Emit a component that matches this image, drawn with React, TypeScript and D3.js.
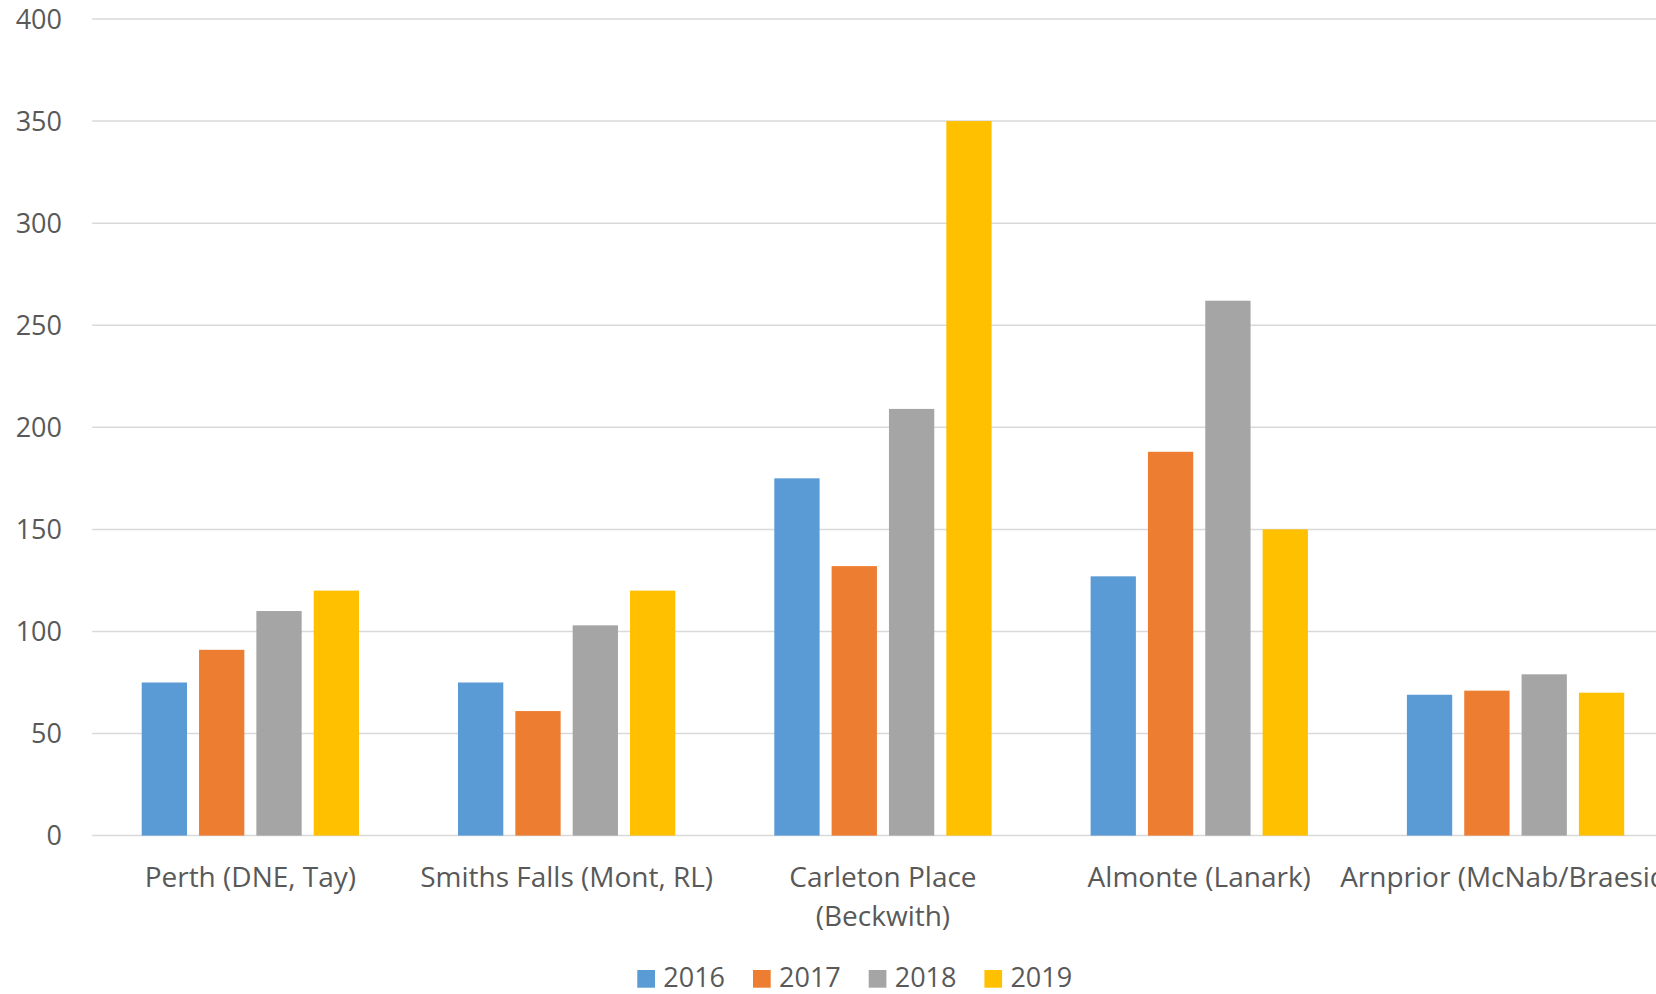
import { useEffect, useRef } from 'react'
import * as d3 from 'd3'

const categories = [
  'Perth (DNE, Tay)',
  'Smiths Falls (Mont, RL)',
  'Carleton Place\n(Beckwith)',
  'Almonte (Lanark)',
  'Arnprior (McNab/Braeside)',
]
const years = ['2016', '2017', '2018', '2019']
const values2016 = [75, 75, 175, 127, 69]
const values2017 = [91, 61, 132, 188, 71]
const values2018 = [110, 103, 209, 262, 79]
const values2019 = [120, 120, 350, 150, 70]
const yTicks = [0, 50, 100, 150, 200, 250, 300, 350, 400]
const colors = ['#5B9BD5', '#ED7D31', '#A5A5A5', '#FFC000']

const W = 1656
const H = 994
const FONT = '"Open Sans", sans-serif'
const TEXT = '#595959'

export default function App() {
  const ref = useRef<SVGSVGElement>(null)

  useEffect(() => {
    const svg = d3.select(ref.current)
    svg.selectAll('*').remove()

    const series = [values2016, values2017, values2018, values2019]
    const plotLeft = 92.2
    const plotRight = 1673.7
    // the chart itself runs past the visible frame on the right
    const chartRight = 1712

    const y = d3.scaleLinear().domain([0, 400]).range([835.6, 19])
    const x0 = d3.scaleBand<string>().domain(categories).range([plotLeft, plotRight])
    const outer = 49.5
    const x1 = d3
      .scaleBand<string>()
      .domain(years)
      .range([outer, x0.bandwidth() - outer])
      .paddingInner(0.21)
      .paddingOuter(0)

    // gridlines
    svg
      .append('g')
      .selectAll('line')
      .data(yTicks)
      .join('line')
      .attr('x1', plotLeft)
      .attr('x2', plotRight)
      .attr('y1', (d) => y(d))
      .attr('y2', (d) => y(d))
      .attr('stroke', '#d9d9d9')
      .attr('stroke-width', 1.5)

    // y labels
    svg
      .append('g')
      .selectAll('text')
      .data(yTicks)
      .join('text')
      .attr('x', 62)
      .attr('y', (d) => y(d))
      .attr('dy', '0.36em')
      .attr('text-anchor', 'end')
      .attr('font-family', FONT)
      .attr('font-size', 27)
      .attr('fill', TEXT)
      .text((d) => d)

    // bars
    const groups = svg
      .append('g')
      .selectAll('g')
      .data(categories)
      .join('g')
      .attr('transform', (c) => `translate(${x0(c)},0)`)

    groups
      .selectAll('rect')
      .data((_c, i) => years.map((yr, k) => ({ yr, k, v: series[k][i] })))
      .join('rect')
      .attr('x', (d) => x1(d.yr) ?? 0)
      .attr('width', x1.bandwidth())
      .attr('y', (d) => y(d.v))
      .attr('height', (d) => y(0) - y(d.v))
      .attr('fill', (d) => colors[d.k])

    // category labels
    const labels = svg
      .append('g')
      .selectAll('text')
      .data(categories)
      .join('text')
      .attr('font-family', FONT)
      .attr('font-size', 28)
      .attr('fill', TEXT)
      .attr('text-anchor', 'middle')
      .attr('x', (c) => (x0(c) ?? 0) + x0.bandwidth() / 2)
      .attr('y', 887)

    labels.each(function (c) {
      const t = d3.select(this)
      const lines = c.split('\n')
      lines.forEach((ln, i) => {
        t.append('tspan')
          .attr('x', t.attr('x'))
          .attr('dy', i === 0 ? 0 : 39)
          .text(ln)
      })
      const w = (this as SVGTextElement).getComputedTextLength()
      const cx = +t.attr('x')
      if (cx + w / 2 > chartRight) {
        const nx = chartRight - w / 2
        t.attr('x', nx)
        t.selectAll('tspan').attr('x', nx)
      }
    })

    // legend
    const step = 115.7
    const legend = svg
      .append('g')
      .selectAll('g')
      .data(years)
      .join('g')
      .attr('transform', (_d, i) => `translate(${637.3 + i * step},0)`)
    legend
      .append('rect')
      .attr('x', 0)
      .attr('y', 970)
      .attr('width', 17.7)
      .attr('height', 17.7)
      .attr('fill', (_d, i) => colors[i])
    legend
      .append('text')
      .attr('x', 26)
      .attr('y', 987.3)
      .attr('font-family', FONT)
      .attr('font-size', 27)
      .attr('fill', TEXT)
      .text((d) => d)
  }, [])

  return (
    <svg
      ref={ref}
      width={W}
      height={H}
      viewBox={`0 0 ${W} ${H}`}
      style={{ position: 'absolute', left: 0, top: 0, background: '#fff' }}
    />
  )
}
